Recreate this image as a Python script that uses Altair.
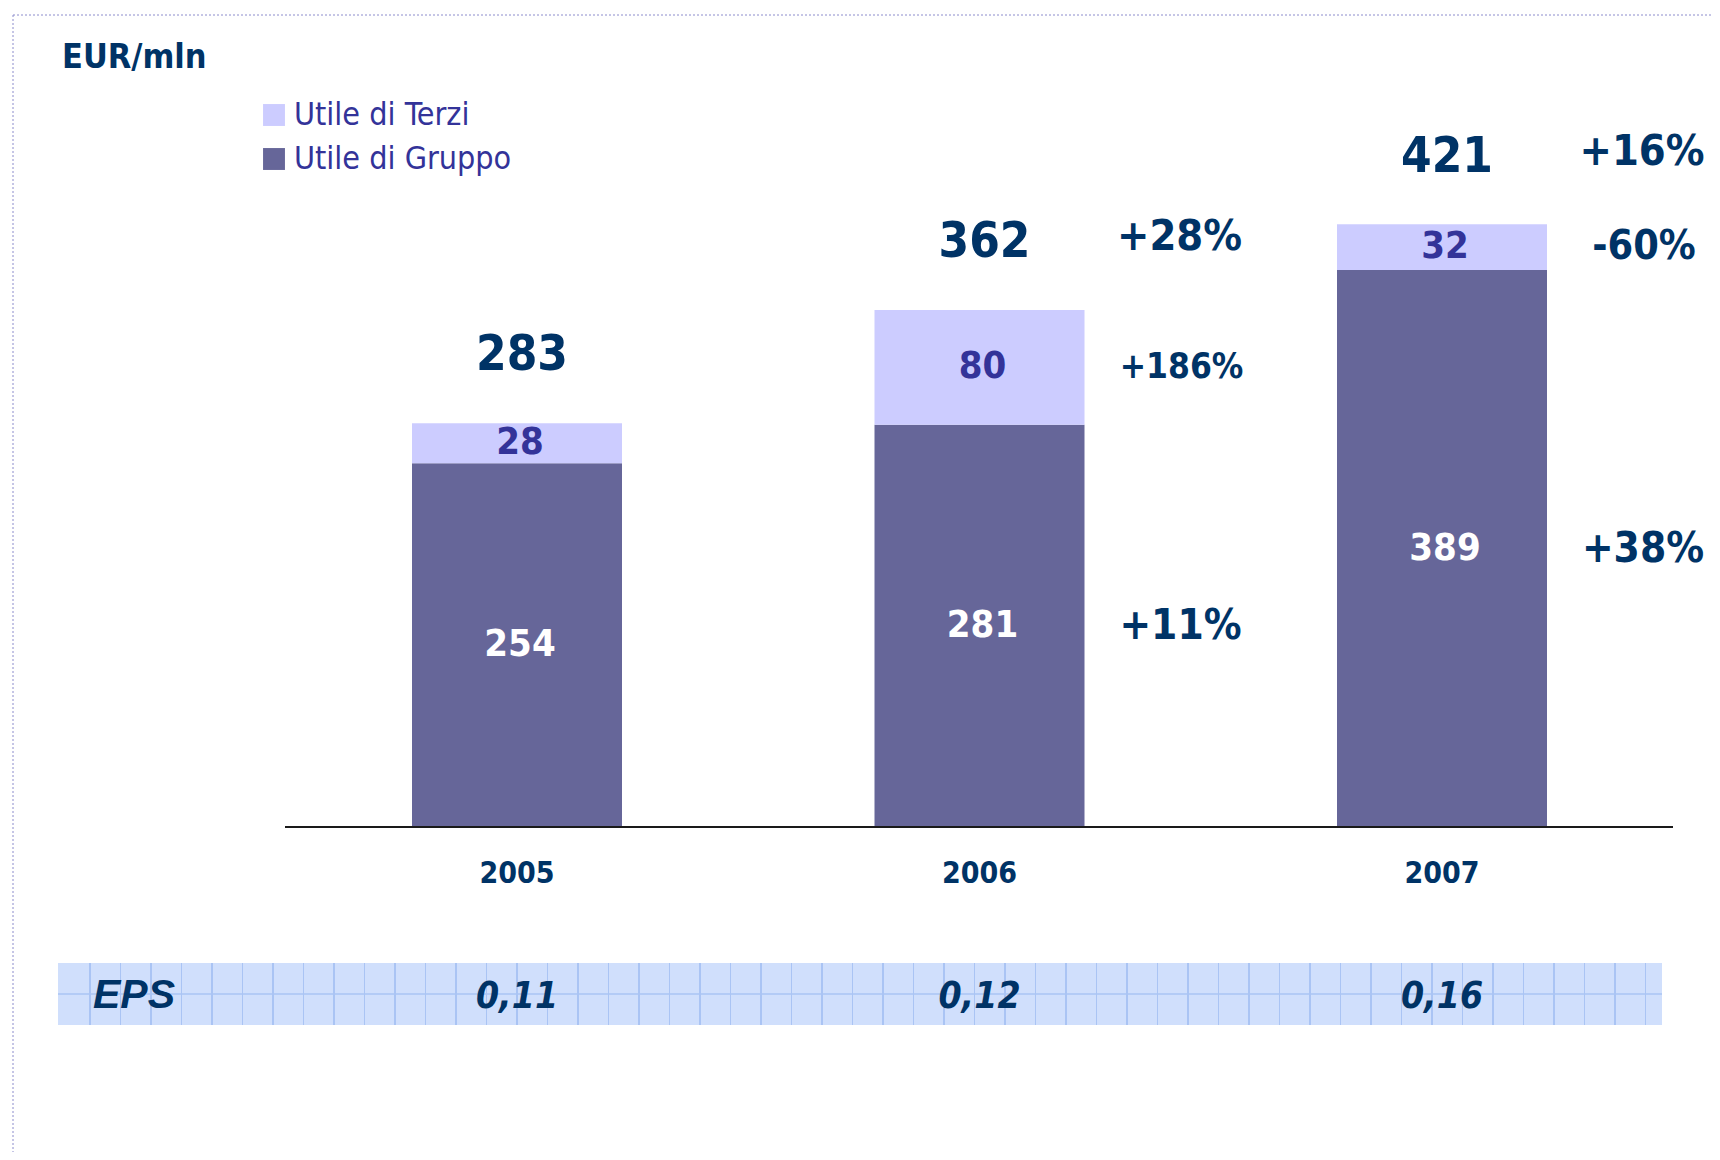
import altair as alt
import pandas as pd

# ---------------- data ----------------
years = ["2005", "2006", "2007"]
series = ["Utile di Terzi", "Utile di Gruppo"]
utile_gruppo = [254, 281, 389]
utile_terzi = [28, 80, 32]
totals = [283, 362, 421]
eps = ["0,11", "0,12", "0,16"]
pct_totale = ["", "+28%", "+16%"]
pct_terzi = ["", "+186%", "-60%"]
pct_gruppo = ["", "+11%", "+38%"]

# ---------------- tables ----------------
rows = []
for i, yr in enumerate(years):
    g, t = utile_gruppo[i], utile_terzi[i]
    rows.append({"year": yr, "series": "Utile di Gruppo", "value": g, "ord": 0, "mid": g / 2})
    rows.append({"year": yr, "series": "Utile di Terzi", "value": t, "ord": 1, "mid": g + t / 2})
bars_df = pd.DataFrame(rows)

yr_df = pd.DataFrame({
    "year": years,
    "total": totals,
    "eps": eps,
    "pct_tot": pct_totale,
    "pct_terzi": pct_terzi,
    "pct_gruppo": pct_gruppo,
    "terzi_mid": [g + t / 2 for g, t in zip(utile_gruppo, utile_terzi)],
    "gruppo_mid": [g / 2 for g in utile_gruppo],
})
one = pd.DataFrame({"k": [0]})

# ---------------- styling ----------------
NAVY = "#003366"
PURPLE = "#333399"
FONT = "DejaVu Sans Condensed, DejaVu Sans"
W, H = 1704, 1144

xscale = alt.Scale(domain=years, range=[277.75, 1665.25], paddingInner=0, paddingOuter=0)
yscale = alt.Scale(domain=[-227, 572], nice=False, zero=False)
X = alt.X("year:N", scale=xscale, axis=None)

# bars
bars = alt.Chart(bars_df).mark_bar(size=210).encode(
    x=X,
    y=alt.Y("value:Q", stack="zero", scale=yscale, axis=None),
    color=alt.Color(
        "series:N",
        scale=alt.Scale(domain=series, range=["#CCCCFF", "#666699"]),
        legend=alt.Legend(
            orient="none", legendX=250, legendY=91, title=None,
            symbolType="square", symbolSize=480, symbolStrokeWidth=0,
            labelFont=FONT, labelFontSize=32, labelFontWeight=500, labelColor=PURPLE,
            labelOffset=4, labelLimit=0, rowPadding=12, padding=0,
        ),
    ),
    order=alt.Order("ord:Q"),
)

seg_labels = alt.Chart(bars_df).mark_text(
    font=FONT, fontSize=38, fontWeight="bold", baseline="middle", dx=3
).encode(
    x=X,
    y=alt.Y("mid:Q", scale=yscale),
    text="value:Q",
    color=alt.condition(alt.datum.series == "Utile di Gruppo", alt.value("white"), alt.value(PURPLE)),
)

tot_labels = alt.Chart(yr_df).mark_text(
    font=FONT, fontSize=49, fontWeight="bold", baseline="middle", dy=-67, dx=5, color=NAVY
).encode(x=X, y=alt.Y("total:Q", scale=yscale), text="total:Q")

tot_pct = alt.Chart(yr_df).mark_text(
    font=FONT, fontSize=43, fontWeight="bold", baseline="middle", dy=-72, dx=200, color=NAVY
).encode(x=X, y=alt.Y("total:Q", scale=yscale), text="pct_tot:N")

terzi_pct = alt.Chart(yr_df).mark_text(
    font=FONT, fontWeight="bold", baseline="middle", dx=202, color=NAVY
).encode(
    x=X, y=alt.Y("terzi_mid:Q", scale=yscale), text="pct_terzi:N",
    size=alt.condition(alt.datum.year == "2006", alt.value(35), alt.value(41)),
)

gruppo_pct = alt.Chart(yr_df).mark_text(
    font=FONT, fontSize=42, fontWeight="bold", baseline="middle", dx=201, color=NAVY
).encode(x=X, y=alt.Y("gruppo_mid:Q", scale=yscale), text="pct_gruppo:N")

year_labels = alt.Chart(yr_df).mark_text(
    font=FONT, fontSize=30, fontWeight="bold", baseline="middle", dy=47, color=NAVY
).encode(x=X, y=alt.datum(0), text="year:N")

baseline = alt.Chart(one).mark_rule(color="#1a1a1a", strokeWidth=2).encode(
    x=alt.value(277), x2=alt.value(1665), y=alt.datum(0)
)

# EPS band with grid pattern
band_left, band_right = 50, 1654
bw = band_right - band_left
stops = []
base_c, line_c = "#D0DFFC", "#AAC4F4"
pos = 32.0
stops.append(alt.GradientStop(offset=0, color=base_c))
while pos < bw:
    a = (pos - 0.8) / bw
    b = (pos + 0.8) / bw
    stops += [
        alt.GradientStop(offset=a, color=base_c),
        alt.GradientStop(offset=a, color=line_c),
        alt.GradientStop(offset=min(b, 1), color=line_c),
        alt.GradientStop(offset=min(b, 1), color=base_c),
    ]
    pos += 30.5
stops.append(alt.GradientStop(offset=1, color=base_c))
grad = alt.LinearGradient(gradient="linear", stops=stops, x1=0, x2=1, y1=0, y2=0)

eps_band = alt.Chart(one).mark_rect(fill=grad).encode(
    x=alt.value(band_left), x2=alt.value(band_right), y=alt.value(955), y2=alt.value(1017)
)
eps_mid = alt.Chart(one).mark_rule(color=line_c, strokeWidth=1.5).encode(
    x=alt.value(band_left), x2=alt.value(band_right), y=alt.value(986)
)
eps_title = alt.Chart(one).mark_text(
    text="EPS", font="Liberation Sans", fontSize=41, fontWeight="bold", fontStyle="italic",
    align="left", baseline="middle", color=NAVY
).encode(x=alt.value(85), y=alt.value(988))

eps_vals = alt.Chart(yr_df).mark_text(
    font=FONT, fontSize=37, fontWeight="bold", fontStyle="italic", baseline="middle", color=NAVY
).encode(x=X, y=alt.value(989), text="eps:N")

unit = alt.Chart(one).mark_text(
    text="EUR/mln", font=FONT, fontSize=34, fontWeight="bold", align="left",
    baseline="middle", color=NAVY
).encode(x=alt.value(54), y=alt.value(50))

# dotted frame
frame_left = alt.Chart(one).mark_rule(color="#8C8CCC", strokeWidth=1, strokeDash=[2, 2]).encode(
    x=alt.value(5), y=alt.value(7), y2=alt.value(H)
)
frame_top = alt.Chart(one).mark_rule(color="#8C8CCC", strokeWidth=1, strokeDash=[2, 2]).encode(
    x=alt.value(5), x2=alt.value(W), y=alt.value(7)
)

chart = alt.layer(
    frame_left, frame_top, eps_band, eps_mid, bars, baseline,
    seg_labels, tot_labels, tot_pct, terzi_pct, gruppo_pct, year_labels,
    eps_title, eps_vals, unit,
).properties(
    width=W, height=H, padding=0, autosize=alt.AutoSizeParams(type="none"),
    background="white",
).configure_view(stroke=None)

chart.save("out.html", embed_options={"renderer": "svg", "actions": False})
